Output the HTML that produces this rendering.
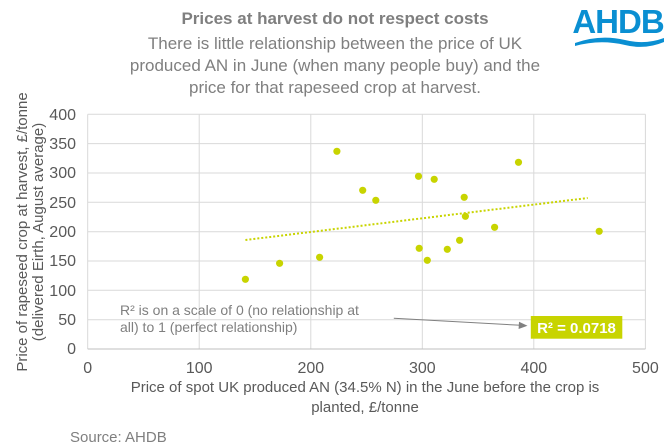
<!DOCTYPE html>
<html><head><meta charset="utf-8"><style>
html,body{margin:0;padding:0;background:#fff;}
svg{display:block;font-family:"Liberation Sans",Arial,sans-serif;}
</style></head><body>
<svg width="667" height="448" viewBox="0 0 667 448" xmlns="http://www.w3.org/2000/svg">
<rect width="667" height="448" fill="#fff"/>
<text x="335" y="24" text-anchor="middle" font-size="17" font-weight="bold" fill="#7f7f7f">Prices at harvest do not respect costs</text>
<g font-size="17" fill="#7f7f7f" text-anchor="middle">
<text x="335" y="49">There is little relationship between the price of UK</text>
<text x="335" y="71">produced AN in June (when many people buy) and the</text>
<text x="335" y="93">price for that rapeseed crop at harvest.</text>
</g>
<text x="618" y="33" text-anchor="middle" font-size="33" font-weight="bold" fill="#0a8fd2" letter-spacing="-1">AHDB</text>
<path d="M575 43 Q600 34 625 40 Q645 45 664 38 L664 42 Q645 50 625 45 Q600 39 575 46 Z" fill="#0a8fd2"/>
<g stroke="#d9d9d9" stroke-width="1">
<line x1="87.7" y1="114.3" x2="645.4" y2="114.3"/>
<line x1="87.7" y1="143.6" x2="645.4" y2="143.6"/>
<line x1="87.7" y1="173" x2="645.4" y2="173"/>
<line x1="87.7" y1="202.3" x2="645.4" y2="202.3"/>
<line x1="87.7" y1="231.7" x2="645.4" y2="231.7"/>
<line x1="87.7" y1="261" x2="645.4" y2="261"/>
<line x1="87.7" y1="290.3" x2="645.4" y2="290.3"/>
<line x1="87.7" y1="319.7" x2="645.4" y2="319.7"/>
<line x1="87.7" y1="114.3" x2="87.7" y2="349"/>
<line x1="199.2" y1="114.3" x2="199.2" y2="349"/>
<line x1="310.8" y1="114.3" x2="310.8" y2="349"/>
<line x1="422.3" y1="114.3" x2="422.3" y2="349"/>
<line x1="533.8" y1="114.3" x2="533.8" y2="349"/>
<line x1="645.4" y1="114.3" x2="645.4" y2="349"/>
</g>
<line x1="87.7" y1="349" x2="645.4" y2="349" stroke="#bfbfbf" stroke-width="1"/>
<g font-size="16" fill="#595959" text-anchor="end">
<text x="76" y="120">400</text><text x="76" y="149">350</text><text x="76" y="178">300</text>
<text x="76" y="208">250</text><text x="76" y="237">200</text><text x="76" y="266">150</text>
<text x="76" y="296">100</text><text x="76" y="325">50</text><text x="76" y="354">0</text>
</g>
<g font-size="16" fill="#595959" text-anchor="middle">
<text x="87.7" y="373">0</text><text x="199.2" y="373">100</text><text x="310.8" y="373">200</text>
<text x="422.3" y="373">300</text><text x="533.8" y="373">400</text><text x="645.4" y="373">500</text>
</g>
<g font-size="15" fill="#595959" text-anchor="middle">
<text x="365" y="392">Price of spot UK produced AN (34.5% N) in the June before the crop is</text>
<text x="365" y="412">planted, £/tonne</text>
<text transform="translate(27,232) rotate(-90)">Price of rapeseed crop at harvest, £/tonne</text>
<text transform="translate(43,232) rotate(-90)">(delivered Eirth, August average)</text>
</g>
<text x="70" y="442" font-size="15" fill="#7f7f7f">Source: AHDB</text>
<line x1="245.4" y1="240" x2="587.7" y2="198" stroke="#c8d400" stroke-width="2" stroke-dasharray="2,2"/>
<g fill="#c8d400">
<circle cx="245.4" cy="279.3" r="3.6"/><circle cx="279.6" cy="263.3" r="3.6"/>
<circle cx="319.6" cy="257.3" r="3.6"/><circle cx="336.9" cy="151.3" r="3.6"/>
<circle cx="362.7" cy="190.3" r="3.6"/><circle cx="375.8" cy="200.3" r="3.6"/>
<circle cx="418.5" cy="176.3" r="3.6"/><circle cx="419.2" cy="248.3" r="3.6"/>
<circle cx="427.3" cy="260.3" r="3.6"/><circle cx="434.2" cy="179.3" r="3.6"/>
<circle cx="447.3" cy="249.3" r="3.6"/><circle cx="459.6" cy="240.3" r="3.6"/>
<circle cx="464.2" cy="197.3" r="3.6"/><circle cx="465.4" cy="216.3" r="3.6"/>
<circle cx="494.6" cy="227.3" r="3.6"/><circle cx="518.5" cy="162.3" r="3.6"/>
<circle cx="599.2" cy="231.3" r="3.6"/>
</g>
<g font-size="14" fill="#7f7f7f">
<text x="120" y="315">R² is on a scale of 0 (no relationship at</text>
<text x="120" y="332">all) to 1 (perfect relationship)</text>
</g>
<line x1="393.8" y1="318.3" x2="521" y2="325.3" stroke="#808080" stroke-width="1"/>
<path d="M527.5 325.7 L519 321.8 L518.6 329 Z" fill="#808080"/>
<rect x="530.8" y="316" width="91.5" height="22.7" fill="#c8d400"/>
<text x="576.5" y="333" text-anchor="middle" font-size="15" font-weight="bold" fill="#fff">R² = 0.0718</text>
</svg>
</body></html>
